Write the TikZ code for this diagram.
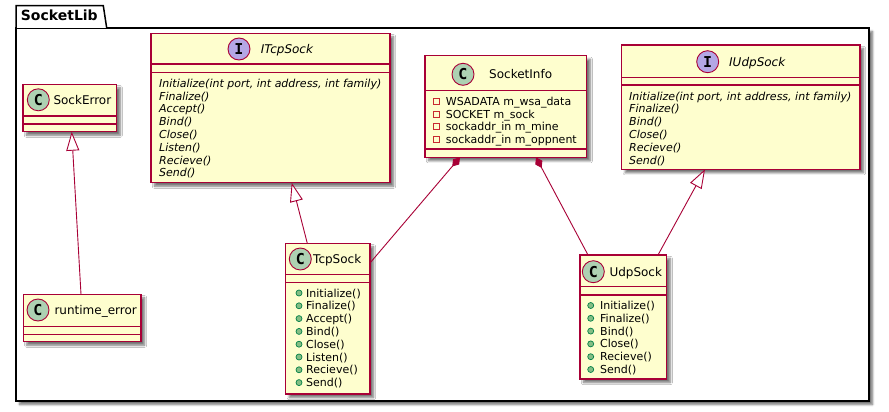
\documentclass[tikz,border=0pt]{standalone}
\usepackage{fontspec}
\setmainfont{DejaVu Sans}
\newfontfamily\iconfont{DejaVu Sans Mono}
\usetikzlibrary{arrows.meta,shadows.blur}
\definecolor{umlred}{HTML}{A80036}
\definecolor{umlfill}{HTML}{FEFECE}
\definecolor{cgreen}{HTML}{ADD1B2}
\definecolor{ipurple}{HTML}{B4A7E5}
\definecolor{pubfill}{HTML}{84BE84}
\definecolor{pubdraw}{HTML}{038048}
\definecolor{privdraw}{HTML}{C82930}
\tikzset{
  cls/.style={draw=umlred, fill=umlfill, line width=1.3pt, anchor=north west, inner sep=0pt, outer sep=0pt,
    blur shadow={shadow xshift=3.5pt, shadow yshift=-3.5pt, shadow blur steps=6, shadow opacity=55}},
  sepline/.style={draw=umlred, line width=1.1pt},
  cicon/.style={circle, draw=umlred, fill=cgreen, line width=0.9pt, minimum size=22pt, inner sep=0pt,
    font=\iconfont\bfseries\fontsize{15}{15}\selectfont},
  iicon/.style={cicon, fill=ipurple},
  nm/.style={anchor=base west, inner sep=0pt, font=\fontsize{12}{14}\selectfont},
  inm/.style={nm, font=\fontsize{12}{14}\selectfont\itshape},
  mem/.style={anchor=base west, inner sep=0pt, font=\fontsize{11}{13}\selectfont},
  imem/.style={mem, font=\fontsize{11}{13}\selectfont\itshape},
  pubicon/.style={circle, draw=pubdraw, fill=pubfill, line width=0.7pt, minimum size=6pt, inner sep=0pt},
  privicon/.style={rectangle, draw=privdraw, line width=0.9pt, minimum size=6pt, inner sep=0pt},
  edge/.style={draw=umlred, line width=0.9pt},
  inherit/.style={edge, -{Triangle[open, length=19pt, width=13pt, fill=white]}},
  compose/.style={edge, {Diamond[length=12pt, width=8pt, fill=umlred]}-},
}
\begin{document}
\begin{tikzpicture}[x=1pt, y=-1pt]
\useasboundingbox (0,0) rectangle (889,412);

% package
\node[draw=black, fill=white, line width=1.5pt, anchor=north west, inner sep=0pt, outer sep=0pt,
  minimum width=853pt, minimum height=373pt,
  blur shadow={shadow xshift=3.5pt, shadow yshift=-3.5pt, shadow blur steps=6, shadow opacity=55}] (pkg) at (16,28) {};
\draw[black, fill=white, line width=1.5pt] (pkg.north west) -- ++(0,-22.3) -- ++(87.3,0) -- ++(3.4,22.3);
\node[anchor=base west, inner sep=0pt, font=\bfseries\fontsize{14}{16}\selectfont] (pkgtitle) at (20.7,21) {SocketLib};

% SockError
\node[cls, minimum width=93.7pt, minimum height=47.4pt] (sockerr) at (23,84.3) {};
\draw[sepline] (sockerr.west |- 0,116) -- (sockerr.east |- 0,116);
\draw[sepline] (sockerr.west |- 0,124) -- (sockerr.east |- 0,124);
\node[cicon] (sockerric) at (38.3,99.8) {C};
\node[nm] (sockerrnm) at (53.3,104.3) {SockError};

% runtime_error
\node[cls, minimum width=117.7pt, minimum height=47.4pt] (rterr) at (23.3,294.3) {};
\draw[sepline] (rterr.west |- 0,326.7) -- (rterr.east |- 0,326.7);
\draw[sepline] (rterr.west |- 0,334.3) -- (rterr.east |- 0,334.3);
\node[cicon] (rterric) at (38,310) {C};
\node[nm] (rterrnm) at (54.3,314.5) {runtime\_error};

% ITcpSock
\node[cls, minimum width=239pt, minimum height=149.4pt] (itcp) at (151,33.3) {};
\draw[sepline] (itcp.west |- 0,64) -- (itcp.east |- 0,64);
\draw[sepline] (itcp.west |- 0,72.7) -- (itcp.east |- 0,72.7);
\node[iicon] (itcpic) at (239,49) {I};
\node[inm] (itcpnm) at (260.7,53.5) {ITcpSock};
\node[imem] (itcp1) at (159,87.3) {Initialize(int port, int address, int family)};
\node[imem] (itcp2) at (159,100.1) {Finalize()};
\node[imem] (itcp3) at (159,112.9) {Accept()};
\node[imem] (itcp4) at (159,125.7) {Bind()};
\node[imem] (itcp5) at (159,138.5) {Close()};
\node[imem] (itcp6) at (159,151.3) {Listen()};
\node[imem] (itcp7) at (159,164.1) {Recieve()};
\node[imem] (itcp8) at (159,176.9) {Send()};

% SocketInfo
\node[cls, minimum width=161.7pt, minimum height=101.6pt] (sinfo) at (425,55.7) {};
\draw[sepline] (sinfo.west |- 0,90.7) -- (sinfo.east |- 0,90.7);
\draw[sepline] (sinfo.west |- 0,149) -- (sinfo.east |- 0,149);
\node[cicon] (sinfoic) at (463,74.3) {C};
\node[nm] (sinfonm) at (489,78.8) {SocketInfo};
\node[privicon] (sip1) at (436.7,101.7) {};
\node[privicon] (sip2) at (436.7,114.3) {};
\node[privicon] (sip3) at (436.7,126.9) {};
\node[privicon] (sip4) at (436.7,139.5) {};
\node[mem] (sif1) at (445.7,105.7) {WSADATA m\_wsa\_data};
\node[mem] (sif2) at (445.7,118.3) {SOCKET m\_sock};
\node[mem] (sif3) at (445.7,130.9) {sockaddr\_in m\_mine};
\node[mem] (sif4) at (445.7,143.5) {sockaddr\_in m\_oppnent};

% IUdpSock
\node[cls, minimum width=238.3pt, minimum height=124.3pt] (iudp) at (621.7,45) {};
\draw[sepline] (iudp.west |- 0,77.3) -- (iudp.east |- 0,77.3);
\draw[sepline] (iudp.west |- 0,85) -- (iudp.east |- 0,85);
\node[iicon] (iudpic) at (707.7,61.7) {I};
\node[inm] (iudpnm) at (729,66.2) {IUdpSock};
\node[imem] (iudp1) at (629,100) {Initialize(int port, int address, int family)};
\node[imem] (iudp2) at (629,112.8) {Finalize()};
\node[imem] (iudp3) at (629,125.6) {Bind()};
\node[imem] (iudp4) at (629,138.4) {Close()};
\node[imem] (iudp5) at (629,151.2) {Recieve()};
\node[imem] (iudp6) at (629,164) {Send()};

% TcpSock
\node[cls, minimum width=84.3pt, minimum height=150.7pt] (tcp) at (285.7,243.3) {};
\draw[sepline] (tcp.west |- 0,274.3) -- (tcp.east |- 0,274.3);
\draw[sepline] (tcp.west |- 0,282.3) -- (tcp.east |- 0,282.3);
\node[cicon] (tcpic) at (300.3,259) {C};
\node[nm] (tcpnm) at (313,263.5) {TcpSock};
\foreach \t [count=\i from 0] in {Initialize(),Finalize(),Accept(),Bind(),Close(),Listen(),Recieve(),Send()} {
  \node[pubicon] (tcpi\i) at (299,293+12.8*\i) {};
  \node[mem] (tcpm\i) at (306,297+12.8*\i) {\t};
}

% UdpSock
\node[cls, minimum width=86.7pt, minimum height=124pt] (udp) at (580,255) {};
\draw[sepline] (udp.west |- 0,286.7) -- (udp.east |- 0,286.7);
\draw[sepline] (udp.west |- 0,295) -- (udp.east |- 0,295);
\node[cicon] (udpic) at (593.3,271.7) {C};
\node[nm] (udpnm) at (609.3,276.2) {UdpSock};
\foreach \t [count=\i from 0] in {Initialize(),Finalize(),Bind(),Close(),Recieve(),Send()} {
  \node[pubicon] (udpi\i) at (590.7,305.5+12.8*\i) {};
  \node[mem] (udpm\i) at (600,309.5+12.8*\i) {\t};
}

% connectors
\draw[inherit] ([xshift=57.7pt]rterr.north west) -- ([xshift=48.7pt]sockerr.south west);
\draw[inherit] ([xshift=21.6pt]tcp.north west) -- ([xshift=140.7pt]itcp.south west);
\draw[inherit] ([xshift=78pt]udp.north west) -- ([xshift=83.3pt]iudp.south west);
\draw[compose] ([xshift=35pt]sinfo.south west) -- ([yshift=-19.7pt]tcp.north east);
\draw[compose] ([xshift=111pt]sinfo.south west) -- ([xshift=8pt]udp.north west);
\end{tikzpicture}
\end{document}
